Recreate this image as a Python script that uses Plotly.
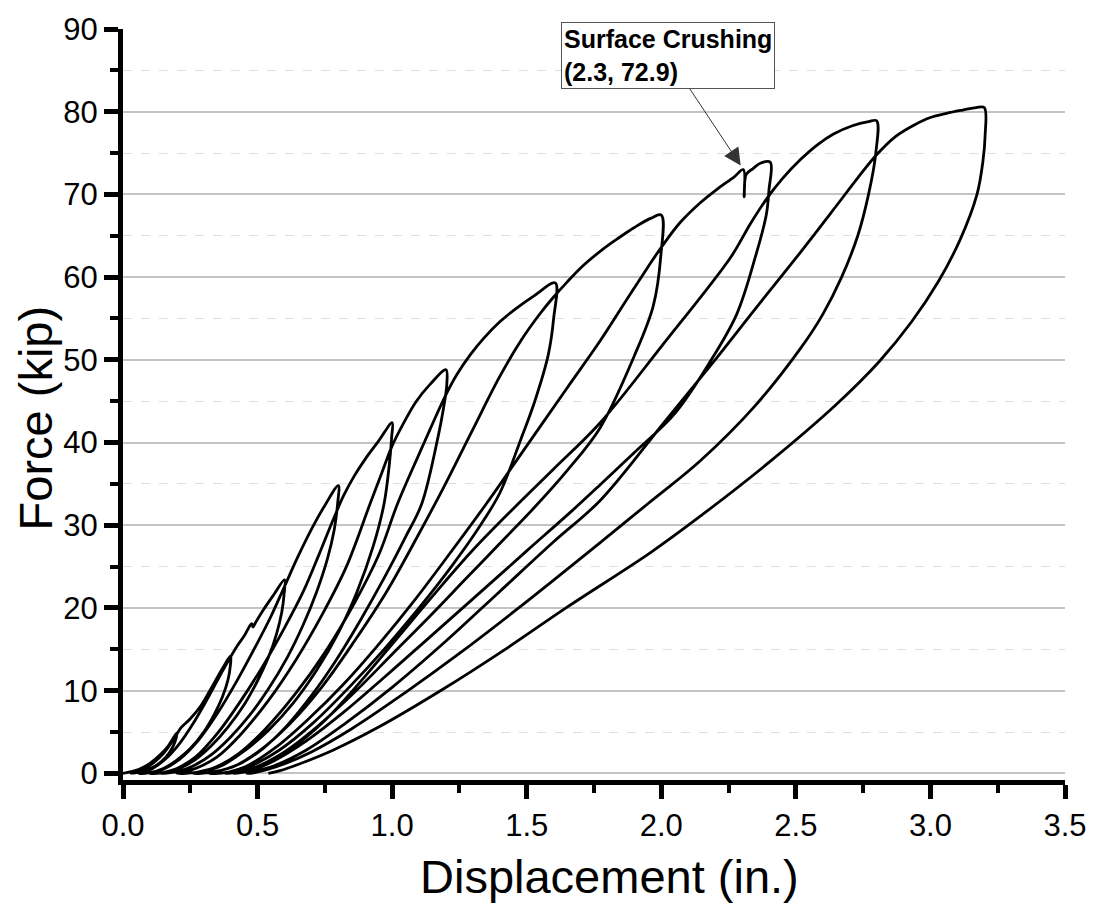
import plotly.graph_objects as go

# ---- Data: force (kip) vs displacement (in.) ----
# Each segment: loading (L) from previous residual to peak, unloading (U) from peak to residual.
L1_x = [0, 0.03, 0.06, 0.10, 0.14, 0.17, 0.20]
L1_y = [0, 0.2, 0.5, 1.2, 2.3, 3.4, 4.9]
U1_x = [0.197, 0.185, 0.16, 0.12, 0.07, 0.03]
U1_y = [4.2, 3.2, 2.0, 0.9, 0.25, 0]
L2_x = [0.07, 0.11, 0.15, 0.19, 0.215, 0.25, 0.29, 0.34, 0.37, 0.40]
L2_y = [0.4, 1.2, 2.4, 4.2, 5.5, 6.6, 8.2, 11.0, 12.7, 14.2]
U2_x = [0.398, 0.39, 0.37, 0.34, 0.30, 0.25, 0.20, 0.15, 0.10, 0.06]
U2_y = [12.8, 11.3, 9.3, 7.2, 5.0, 3.0, 1.6, 0.6, 0.1, 0]
L3_x = [0.11, 0.16, 0.21, 0.26, 0.31, 0.36, 0.395, 0.42, 0.45, 0.478, 0.483, 0.49, 0.52, 0.56, 0.60]
L3_y = [0.6, 1.8, 3.6, 6.0, 8.8, 11.8, 13.8, 15.2, 16.6, 18.1, 17.7, 18.1, 19.7, 21.6, 23.4]
U3_x = [0.598, 0.59, 0.57, 0.54, 0.50, 0.45, 0.39, 0.33, 0.27, 0.21, 0.15, 0.10]
U3_y = [21.5, 19.5, 16.8, 14.0, 11.2, 8.3, 5.6, 3.4, 1.7, 0.6, 0.1, 0]
L4_x = [0.15, 0.21, 0.28, 0.35, 0.42, 0.49, 0.55, 0.60, 0.65, 0.70, 0.75, 0.80]
L4_y = [0.5, 1.7, 4.0, 7.2, 11.0, 15.2, 19.0, 22.6, 26.2, 29.5, 32.4, 34.8]
U4_x = [0.797, 0.785, 0.76, 0.72, 0.67, 0.61, 0.54, 0.47, 0.40, 0.33, 0.26, 0.20, 0.14]
U4_y = [32.5, 29.5, 26.0, 22.0, 18.0, 14.0, 10.2, 7.0, 4.4, 2.3, 0.9, 0.2, 0]
L5_x = [0.20, 0.27, 0.35, 0.43, 0.52, 0.60, 0.67, 0.73, 0.78, 0.82, 0.86, 0.90, 0.95, 1.00]
L5_y = [0.6, 2.0, 4.8, 8.4, 13.0, 17.6, 22.0, 26.6, 30.6, 33.6, 36.0, 38.0, 40.2, 42.4]
U5_x = [0.998, 0.99, 0.97, 0.93, 0.87, 0.80, 0.72, 0.63, 0.54, 0.45, 0.37, 0.29, 0.20]
U5_y = [40.6, 37.5, 32.6, 27.5, 22.0, 17.0, 12.5, 8.4, 5.2, 2.7, 1.0, 0.2, 0]
L6_x = [0.27, 0.35, 0.44, 0.54, 0.64, 0.74, 0.83, 0.918, 0.96, 1.00, 1.04, 1.09, 1.14, 1.20]
L6_y = [0.6, 2.0, 4.8, 8.8, 13.6, 19.2, 25.0, 32.6, 36.2, 39.6, 42.2, 45.0, 47.0, 48.8]
U6_x = [1.203, 1.19, 1.17, 1.11, 1.05, 0.97, 0.88, 0.79, 0.70, 0.61, 0.52, 0.43, 0.34, 0.26]
U6_y = [47.0, 44.0, 40.6, 32.6, 28.6, 23.6, 18.4, 13.6, 9.4, 5.8, 3.0, 1.1, 0.2, 0]
L7_x = [0.34, 0.43, 0.53, 0.64, 0.75, 0.86, 0.95, 1.02, 1.10, 1.16, 1.20, 1.24, 1.29, 1.34, 1.40, 1.46, 1.53, 1.606]
L7_y = [0.7, 2.4, 5.4, 9.6, 14.6, 20.6, 26.4, 32.6, 38.6, 43.0, 45.8, 48.2, 50.6, 52.6, 54.6, 56.2, 57.8, 59.3]
U7_x = [1.60, 1.58, 1.53, 1.476, 1.40, 1.32, 1.22, 1.10, 0.97, 0.84, 0.71, 0.58, 0.46, 0.38, 0.32]
U7_y = [55.0, 50.6, 45.0, 40.2, 33.9, 29.6, 25.0, 20.0, 15.0, 10.4, 6.2, 2.8, 0.7, 0.1, 0]
L8_x = [0.41, 0.51, 0.62, 0.74, 0.86, 0.98, 1.09, 1.19, 1.30, 1.40, 1.48, 1.55, 1.60, 1.65, 1.71, 1.78, 1.84, 1.90, 1.96, 2.00]
L8_y = [0.8, 2.8, 6.0, 10.5, 16.0, 22.0, 28.4, 34.5, 41.6, 48.0, 52.4, 55.6, 57.6, 59.4, 61.4, 63.3, 64.7, 66.0, 67.1, 67.5]
U8_x = [1.998, 1.97, 1.90, 1.773, 1.65, 1.53, 1.40, 1.27, 1.14, 1.00, 0.86, 0.72, 0.60, 0.48, 0.38]
U8_y = [62.5, 56.5, 50.5, 41.8, 36.6, 32.2, 27.8, 23.4, 19.0, 14.4, 9.8, 5.6, 2.6, 0.6, 0]
L9_x = [0.46, 0.57, 0.69, 0.82, 0.95, 1.08, 1.21, 1.35, 1.50, 1.65, 1.773, 1.87, 1.95, 2.00, 2.07, 2.145, 2.21, 2.27, 2.305, 2.308, 2.315, 2.34, 2.37, 2.405]
L9_y = [0.9, 3.2, 6.6, 10.8, 15.6, 20.8, 26.4, 32.6, 39.6, 46.6, 52.3, 57.2, 61.2, 63.6, 66.6, 69.0, 70.7, 72.1, 73.0, 69.7, 72.4, 73.1, 73.8, 73.9]
U9_x = [2.40, 2.39, 2.35, 2.28, 2.18, 2.05, 1.90, 1.773, 1.67, 1.50, 1.30, 1.12, 0.97, 0.82, 0.68, 0.56, 0.47, 0.41]
U9_y = [70.5, 67.5, 62.5, 55.5, 49.7, 43.5, 38.8, 34.9, 31.8, 26.9, 21.1, 15.9, 11.6, 7.4, 3.9, 1.5, 0.3, 0]
L10_x = [0.50, 0.62, 0.75, 0.88, 1.02, 1.16, 1.30, 1.45, 1.60, 1.773, 2.00, 2.26, 2.33, 2.39, 2.45, 2.52, 2.58, 2.64, 2.71, 2.77, 2.80]
L10_y = [0.8, 2.9, 6.4, 11.0, 16.4, 21.8, 27.0, 32.0, 36.8, 42.4, 51.6, 62.5, 66.4, 69.4, 71.9, 74.3, 76.0, 77.3, 78.3, 78.8, 78.9]
U10_x = [2.797, 2.77, 2.73, 2.67, 2.60, 2.52, 2.35, 2.145, 1.95, 1.773, 1.47, 1.25, 1.05, 0.85, 0.70, 0.57, 0.49, 0.46]
U10_y = [75.0, 70.0, 65.0, 60.0, 55.5, 51.5, 44.5, 37.8, 32.6, 27.9, 20.0, 14.5, 9.8, 5.4, 2.6, 0.8, 0.1, 0]
L11_x = [0.56, 0.68, 0.82, 1.00, 1.20, 1.40, 1.60, 1.773, 2.00, 2.20, 2.35, 2.505, 2.65, 2.73, 2.80, 2.87, 2.94, 3.00, 3.06, 3.12, 3.17, 3.20]
L11_y = [0.9, 2.8, 5.9, 10.4, 16.0, 22.0, 28.0, 33.0, 42.0, 50.0, 56.2, 62.5, 68.6, 72.0, 74.8, 77.0, 78.4, 79.3, 79.8, 80.2, 80.5, 80.5]
U11_x = [3.203, 3.195, 3.173, 3.11, 3.03, 2.93, 2.81, 2.65, 2.40, 2.145, 1.96, 1.65, 1.42, 1.19, 0.95, 0.78, 0.66, 0.58, 0.54]
U11_y = [77.0, 74.0, 70.0, 64.5, 59.5, 54.6, 49.8, 44.6, 37.6, 31.1, 26.7, 20.1, 15.0, 10.2, 5.6, 2.8, 1.2, 0.3, 0]

segments_x = [L1_x, U1_x, L2_x, U2_x, L3_x, U3_x, L4_x, U4_x, L5_x, U5_x, L6_x, U6_x,
              L7_x, U7_x, L8_x, U8_x, L9_x, U9_x, L10_x, U10_x, L11_x, U11_x]
segments_y = [L1_y, U1_y, L2_y, U2_y, L3_y, U3_y, L4_y, U4_y, L5_y, U5_y, L6_y, U6_y,
              L7_y, U7_y, L8_y, U8_y, L9_y, U9_y, L10_y, U10_y, L11_y, U11_y]

disp = [v for s in segments_x for v in s]
force = [v for s in segments_y for v in s]

x_ticks = [0.0, 0.5, 1.0, 1.5, 2.0, 2.5, 3.0, 3.5]
y_ticks = [0, 10, 20, 30, 40, 50, 60, 70, 80, 90]

FONT = "Liberation Sans, Arial, sans-serif"

fig = go.Figure()
fig.add_trace(go.Scatter(
    x=disp, y=force, mode="lines",
    line=dict(color="black", width=2.8, shape="spline", smoothing=1.0),
    showlegend=False, hoverinfo="skip"))

fig.add_annotation(
    x=2.295, y=73.5, xref="x", yref="y",
    text="<b>Surface Crushing</b><br><b>(2.3, 72.9)</b>",
    showarrow=True, ax=-73, ay=-110,
    arrowhead=2, arrowsize=3.4, arrowwidth=1, arrowcolor="#333333",
    align="left", font=dict(family=FONT, size=25, color="black"),
    bordercolor="#555555", borderwidth=1, borderpad=2, bgcolor="white")

# axis titles as annotations for exact placement
fig.add_annotation(x=0.5164, y=-0.129, xref="paper", yref="paper",
                   text="Displacement (in.)", showarrow=False,
                   xanchor="center", yanchor="middle",
                   font=dict(family=FONT, size=47, color="black"))
fig.add_annotation(x=-0.0933, y=0.4816, xref="paper", yref="paper",
                   text="Force (kip)", showarrow=False, textangle=-90,
                   xanchor="center", yanchor="middle",
                   font=dict(family=FONT, size=47, color="black"))

fig.update_layout(
    width=1099, height=911,
    margin=dict(l=123, r=33, t=20, b=131),
    paper_bgcolor="white", plot_bgcolor="white",
    font=dict(family=FONT, color="black"),
    xaxis=dict(
        range=[0, 3.5], tickvals=x_ticks, ticktext=[f"{v:.1f}" for v in x_ticks],
        showgrid=False, zeroline=False,
        showline=True, linecolor="black", linewidth=5,
        ticks="outside", ticklen=14, tickwidth=5, tickcolor="black",
        tickfont=dict(size=31, family=FONT),
        minor=dict(ticks="outside", ticklen=8, tickwidth=4, tickcolor="black", dtick=0.25, tick0=0, showgrid=False),
    ),
    yaxis=dict(
        range=[-0.8, 90], tickvals=y_ticks,
        showgrid=True, gridcolor="#c4c4c4", gridwidth=1.5, zeroline=False,
        showline=True, linecolor="black", linewidth=5,
        ticks="outside", ticklen=14, tickwidth=5, tickcolor="black",
        tickfont=dict(size=31, family=FONT),
        minor=dict(ticks="outside", ticklen=8, tickwidth=4, tickcolor="black", dtick=5, tick0=0,
                   showgrid=True, gridcolor="#e0e0e0", gridwidth=1, griddash="dash"),
    ),
)

fig.write_html("out.html")
